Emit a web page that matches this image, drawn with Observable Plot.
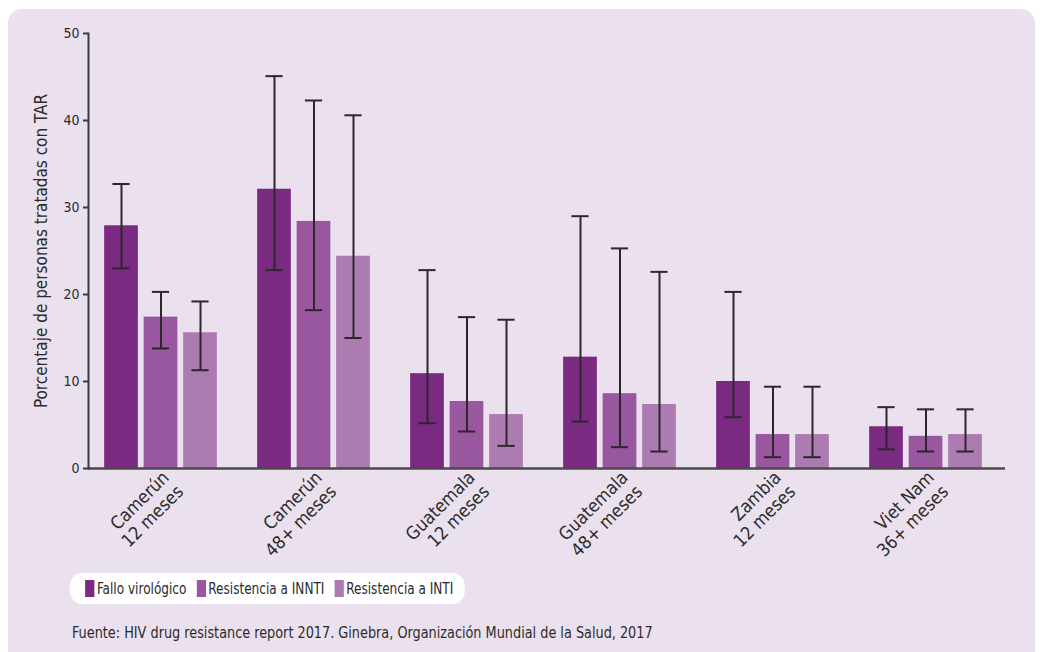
<!DOCTYPE html>
<html>
<head>
<meta charset="utf-8">
<script src="https://cdn.jsdelivr.net/npm/d3@7"></script>
<script src="https://cdn.jsdelivr.net/npm/@observablehq/plot@0.6"></script>
<style>
  html, body { margin: 0; padding: 0; background: #ffffff; }
  body { width: 1043px; height: 652px; position: relative; overflow: hidden;
         font-family: "Liberation Sans Narrow", "DejaVu Sans Condensed", sans-serif; color: #2b2b2b; }
  #panel { position: absolute; left: 8px; top: 9px; width: 1027px; height: 660px;
           background: #EBE1EE; border-radius: 14px; }
  #chart { position: absolute; left: 0; top: 0; }
  #legend { position: absolute; left: 70px; top: 573px; height: 31px; padding: 0 14px 0 18px;
            background: #ffffff; border-radius: 15px / 13px; display: flex; align-items: center;
            font-size: 16px; color: #2b2b2b; white-space: nowrap;
            transform: scaleX(0.84); transform-origin: 0 0; }
  #legend .item { display: flex; align-items: center; margin-right: 12px; }
  #legend .item:last-child { margin-right: 0; }
  #legend .sw { width: 11px; height: 17px; margin-right: 3px; }
  #caption { position: absolute; left: 72px; top: 624px; font-size: 15px; color: #2b2b2b;
             white-space: nowrap; transform: scaleX(0.952); transform-origin: 0 0; }
</style>
</head>
<body>
<div id="panel"></div>
<div id="chart"></div>
<div id="legend"></div>
<div id="caption">Fuente: HIV drug resistance report 2017. Ginebra, Organización Mundial de la Salud, 2017</div>
<script>
// ---- data ----
const countries = ["Camerún", "Camerún", "Guatemala", "Guatemala", "Zambia", "Viet Nam"];
const periods = ["12 meses", "48+ meses", "12 meses", "48+ meses", "12 meses", "36+ meses"];
const series = ["Fallo virológico", "Resistencia a INNTI", "Resistencia a INTI"];
const colors = ["#7B2A82", "#98579E", "#AC7BB1"];

const falloVirologico = [27.9, 32.1, 10.9, 12.8, 10.0, 4.8];
const falloLow        = [23.0, 22.8, 5.2, 5.4, 5.9, 2.2];
const falloHigh       = [32.7, 45.1, 22.8, 29.0, 20.3, 7.05];

const resINNTI     = [17.4, 28.4, 7.7, 8.6, 3.9, 3.7];
const resINNTILow  = [13.8, 18.2, 4.25, 2.45, 1.3, 1.95];
const resINNTIHigh = [20.3, 42.3, 17.4, 25.3, 9.4, 6.8];

const resINTI     = [15.6, 24.4, 6.2, 7.35, 3.9, 3.9];
const resINTILow  = [11.3, 15.0, 2.6, 1.95, 1.3, 1.95];
const resINTIHigh = [19.2, 40.6, 17.1, 22.6, 9.4, 6.8];

const yTicks = [0, 10, 20, 30, 40, 50];
const yLabel = "Porcentaje de personas tratadas con TAR";

// ---- build table ----
const groups = countries.map((c, i) => c + "\n" + periods[i]);
const values = [falloVirologico, resINNTI, resINTI];
const lows = [falloLow, resINNTILow, resINTILow];
const highs = [falloHigh, resINNTIHigh, resINTIHigh];
const rows = [];
series.forEach((s, si) => {
  groups.forEach((g, gi) => {
    rows.push({group: g, series: s, si, value: values[si][gi], low: lows[si][gi], high: highs[si][gi]});
  });
});

// ---- layout ----
const W = 1043, H = 560;
const band = 153.8;            // group step
const barW = 34.5, barStep = 39.5, capHalf = 9;
const font = '"Liberation Sans Narrow", "DejaVu Sans Condensed", sans-serif';

const marks = [];
series.forEach((s, si) => {
  const data = rows.filter(d => d.si === si);
  const off = (si - 1) * barStep;               // offset of bar centre from group centre
  const inL = band / 2 + off - barW / 2;
  const inR = band - inL - barW;
  marks.push(Plot.barY(data, {x: "group", y: "value", fill: colors[si], insetLeft: inL, insetRight: inR}));
});
series.forEach((s, si) => {
  const data = rows.filter(d => d.si === si);
  const off = (si - 1) * barStep;
  marks.push(Plot.ruleX(data, {x: "group", y1: "low", y2: "high", dx: off, stroke: "#2d272c", strokeWidth: 2}));
  marks.push(Plot.tickY(data, {x: "group", y: "low", insetLeft: band / 2 + off - capHalf, insetRight: band / 2 - off - capHalf, stroke: "#2d272c", strokeWidth: 2}));
  marks.push(Plot.tickY(data, {x: "group", y: "high", insetLeft: band / 2 + off - capHalf, insetRight: band / 2 - off - capHalf, stroke: "#2d272c", strokeWidth: 2}));
});

const chart = Plot.plot({
  width: W,
  height: H,
  marginTop: 33,
  marginBottom: H - 468,
  marginLeft: 88,
  marginRight: 38,
  style: {background: "transparent", fontFamily: font, color: "#2b2b2b"},
  x: {type: "band", domain: groups, range: [158 - band / 2, 158 + 5.5 * band], padding: 0, axis: null},
  y: {domain: [0, 50], axis: null},
  marks: [
    ...marks,
    Plot.ruleY([0], {stroke: "#4a4a4a", strokeWidth: 2.5}),
    Plot.frame({anchor: "left", stroke: "#3a3a3a", strokeWidth: 2}),
    Plot.axisY({ticks: yTicks, tickSize: 5, tickPadding: 4, tickFormat: d => d, fontSize: 14,
                label: yLabel, labelAnchor: "center", labelOffset: 54, labelArrow: "none",
                stroke: "#3a3a3a", strokeWidth: 2}),
    Plot.text(groups, {x: d => d, frameAnchor: "bottom", text: d => d, rotate: -45,
                       textAnchor: "end", lineAnchor: "top", dx: -1, dy: 0, fontSize: 18,
                       lineHeight: 1.12, fill: "#2b2b2b"})
  ]
});
// enlarge the y label font
chart.querySelectorAll("g[aria-label='y-axis label'] text").forEach(t => t.setAttribute("font-size", 17));
document.getElementById("chart").appendChild(chart);

// ---- legend ----
const legend = document.getElementById("legend");
series.forEach((s, i) => {
  const item = document.createElement("div");
  item.className = "item";
  const sw = document.createElement("div");
  sw.className = "sw";
  sw.style.background = colors[i];
  const label = document.createElement("span");
  label.textContent = s;
  item.appendChild(sw);
  item.appendChild(label);
  legend.appendChild(item);
});
</script>
</body>
</html>
